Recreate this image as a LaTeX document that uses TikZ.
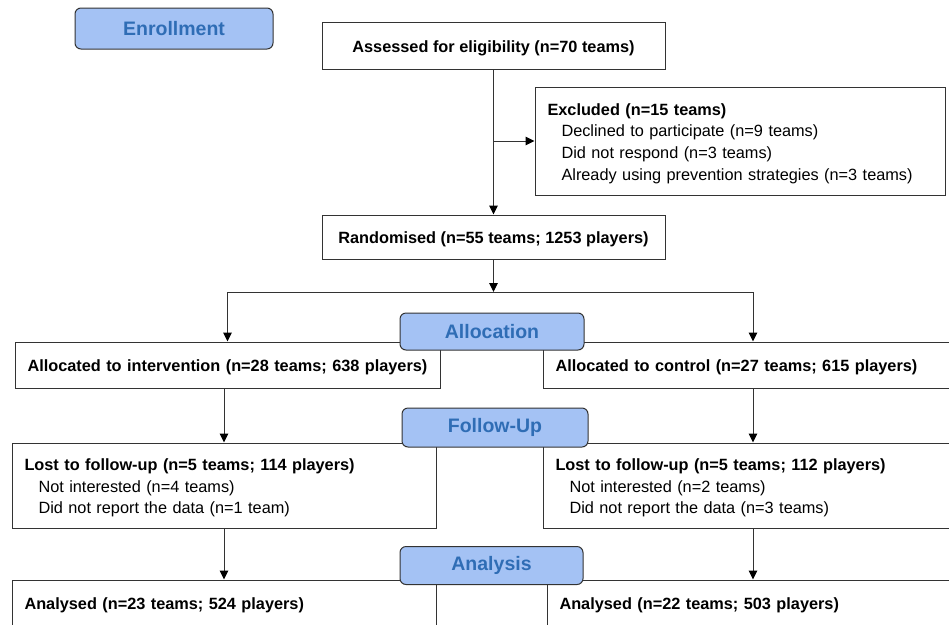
\documentclass[tikz,border=0pt]{standalone}
\usepackage{fontspec}
\setmainfont{Liberation Sans}
\usetikzlibrary{arrows.meta}
\definecolor{phasefill}{HTML}{A4C2F4}
\definecolor{phasetext}{HTML}{2F6DB5}
\definecolor{edgecol}{HTML}{333333}
\newcommand{\ind}{\hspace*{14pt}}
\begin{document}
\begin{tikzpicture}[x=1pt,y=-1pt,
  box/.style={draw=edgecol, line width=1pt, fill=white, font=\fontsize{16.3}{21.6}\selectfont, inner ysep=0pt, inner xsep=12.5pt, text height=16.9pt},
  cbox/.style={box, font=\fontsize{16.3}{21.6}\selectfont\bfseries, align=center},
  lbox/.style={box, align=left},
  phase/.style={draw=edgecol, line width=1pt, fill=phasefill, rounded corners=6pt, text=phasetext, font=\fontsize{19.5}{22}\selectfont\bfseries, inner sep=0pt},
  arr/.style={draw=edgecol, line width=1pt, -{Triangle[length=9pt,width=8.5pt,color=black]}},
  ln/.style={draw=edgecol, line width=1pt}]
\useasboundingbox (0,0) rectangle (949,624);
\clip (0,0) rectangle (949,624);

\node[cbox, minimum width=343pt, minimum height=47pt] (assess) at (493.5,45.5) {Assessed for eligibility (n=70 teams)};
\node[lbox, text width=385pt, minimum height=108pt] (excl) at (740,141)
  {\textbf{Excluded (n=15 teams)}\\\ind Declined to participate (n=9 teams)\\\ind Did not respond (n=3 teams)\\\ind Already using prevention strategies (n=3 teams)};
\node[cbox, minimum width=343pt, minimum height=44pt] (rand) at (493.5,237) {Randomised (n=55 teams; 1253 players)};
\coordinate (split) at (493.5,292);

\node[lbox, text width=400pt, minimum height=46pt] (allocL) at (227.5,365) {\textbf{Allocated to intervention (n=28 teams; 638 players)}};
\node[lbox, text width=395pt, minimum height=46pt] (allocR) at (753,365) {\textbf{Allocated to control (n=27 teams; 615 players)}};

\node[lbox, text width=399pt, minimum height=85pt] (lostL) at (224,485.5)
  {\textbf{Lost to follow-up (n=5 teams; 114 players)}\\\ind Not interested (n=4 teams)\\\ind Did not report the data (n=1 team)};
\node[lbox, text width=395pt, minimum height=85pt] (lostR) at (753,485.5)
  {\textbf{Lost to follow-up (n=5 teams; 112 players)}\\\ind Not interested (n=2 teams)\\\ind Did not report the data (n=3 teams)};

\node[lbox, text width=399pt, minimum height=46pt] (anaL) at (224,603) {\textbf{Analysed (n=23 teams; 524 players)}};
\node[lbox, text width=387pt, minimum height=46pt] (anaR) at (753,603) {\textbf{Analysed (n=22 teams; 503 players)}};

\draw[arr] (assess) -- (rand);
\draw[arr] (assess.south |- excl) -- (excl.west);
\draw[arr] (rand) -- (split);
\draw[arr] (split) -| (allocL);
\draw[arr] (split) -| (allocR);
\draw[arr] (allocL.south -| lostL) -- (lostL);
\draw[arr] (allocR) -- (lostR);
\draw[arr] (lostL) -- (anaL);
\draw[arr] (lostR) -- (anaR);

\node[phase, minimum width=198pt, minimum height=41pt] (enroll) at (174,28.5) {Enrollment};
\node[phase, minimum width=184pt, minimum height=37pt] (alloc) at (492,331.5) {Allocation};
\node[phase, minimum width=186pt, minimum height=39pt] (follow) at (495,427.5) {Follow-Up};
\node[phase, minimum width=183pt, minimum height=38pt] (anal) at (491.5,565.5) {Analysis};
\end{tikzpicture}
\end{document}
